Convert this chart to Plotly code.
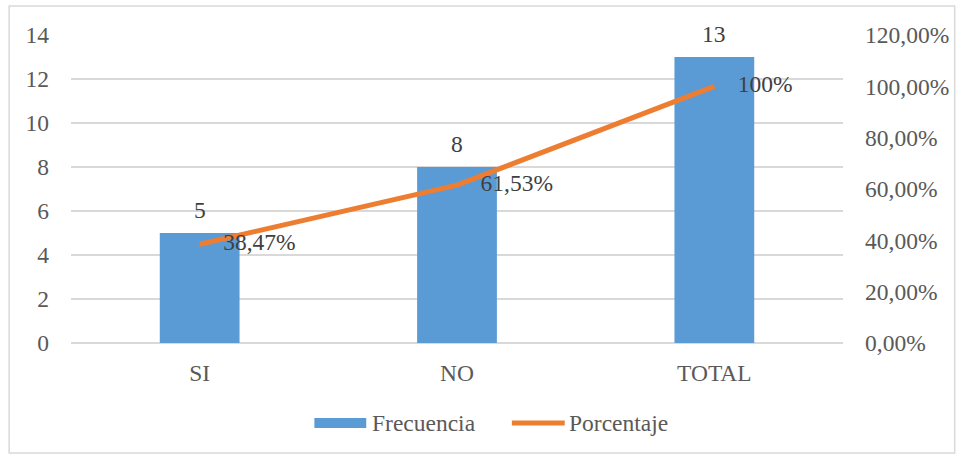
import plotly.graph_objects as go

categories = ["SI", "NO", "TOTAL"]
frecuencia = [5, 8, 13]
porcentaje = [0.3847, 0.6153, 1.0]
porcentaje_labels = ["38,47%", "61,53%", "100%"]
left_ticks = [0, 2, 4, 6, 8, 10, 12, 14]
right_ticks = [0, 0.2, 0.4, 0.6, 0.8, 1.0, 1.2]
right_labels = ["0,00%", "20,00%", "40,00%", "60,00%", "80,00%", "100,00%", "120,00%"]

FONT = "Liberation Serif, Times New Roman, serif"
FS = 23.5
TXT = "#595959"
LBL = "#404040"
BLUE = "#5B9BD5"
ORANGE = "#ED7D31"

fig = go.Figure()
fig.add_trace(go.Bar(
    x=categories, y=frecuencia, name="Frecuencia",
    marker=dict(color=BLUE, line=dict(width=0)),
    cliponaxis=False, showlegend=False,
))
fig.add_trace(go.Scatter(
    x=categories, y=porcentaje, name="Porcentaje", yaxis="y2",
    mode="lines+text", line=dict(color=ORANGE, width=5),
    text=["    " + t for t in porcentaje_labels], textposition="middle right",
    textfont=dict(family=FONT, size=FS, color=LBL),
    cliponaxis=False, showlegend=False,
))

W, H = 961, 455
L, R, T, B = 71, 845, 35, 343
pw, ph = R - L, B - T

def px(x):
    return (x - L) / pw

def py(y):
    return (B - y) / ph

annotations = []
for c, v in zip(categories, frecuencia):
    annotations.append(dict(x=c, y=v, xref="x", yref="y", text=str(v), showarrow=False,
                            yanchor="bottom", yshift=8,
                            font=dict(family=FONT, size=FS, color=LBL)))
# legend texts
annotations.append(dict(x=px(371), y=py(423), xref="paper", yref="paper", text="Frecuencia",
                        showarrow=False, xanchor="left", yanchor="middle",
                        font=dict(family=FONT, size=FS, color=TXT)))
annotations.append(dict(x=px(568), y=py(423), xref="paper", yref="paper", text="Porcentaje",
                        showarrow=False, xanchor="left", yanchor="middle",
                        font=dict(family=FONT, size=FS, color=TXT)))

shapes = [
    dict(type="rect", xref="paper", yref="paper",
         x0=px(9), x1=px(957), y0=py(453), y1=py(6),
         line=dict(color="#D9D9D9", width=1.5), fillcolor="rgba(0,0,0,0)", layer="below"),
    dict(type="rect", xref="paper", yref="paper",
         x0=px(315), x1=px(367), y0=py(428), y1=py(418),
         line=dict(width=0), fillcolor=BLUE),
    dict(type="line", xref="paper", yref="paper",
         x0=px(513), x1=px(566), y0=py(423), y1=py(423),
         line=dict(color=ORANGE, width=5)),
]

fig.update_layout(
    width=W, height=H,
    margin=dict(l=L, r=W - R, t=T, b=H - B),
    paper_bgcolor="white", plot_bgcolor="white",
    font=dict(family=FONT, size=FS, color=TXT),
    bargap=0.69,
    showlegend=False,
    xaxis=dict(showgrid=False, showline=False, ticks="", tickfont=dict(size=FS, color=TXT),
               ticklabelstandoff=13),
    yaxis=dict(range=[0, 14], tickvals=left_ticks, showgrid=True, gridcolor="#D9D9D9",
               gridwidth=1.5, zeroline=True, zerolinecolor="#D9D9D9", zerolinewidth=1.5,
               showline=False, ticks="", ticklabelstandoff=21, tickfont=dict(size=FS, color=TXT)),
    yaxis2=dict(range=[0, 1.2], tickvals=right_ticks, ticktext=right_labels, overlaying="y",
                side="right", showgrid=False, zeroline=False, showline=False, ticks="",
                ticklabelstandoff=21, tickfont=dict(size=FS, color=TXT)),
    shapes=shapes,
    annotations=annotations,
)

fig.write_html("out.html", config={"displayModeBar": False},
               post_script="document.body.style.margin='0';document.body.style.padding='0';")
